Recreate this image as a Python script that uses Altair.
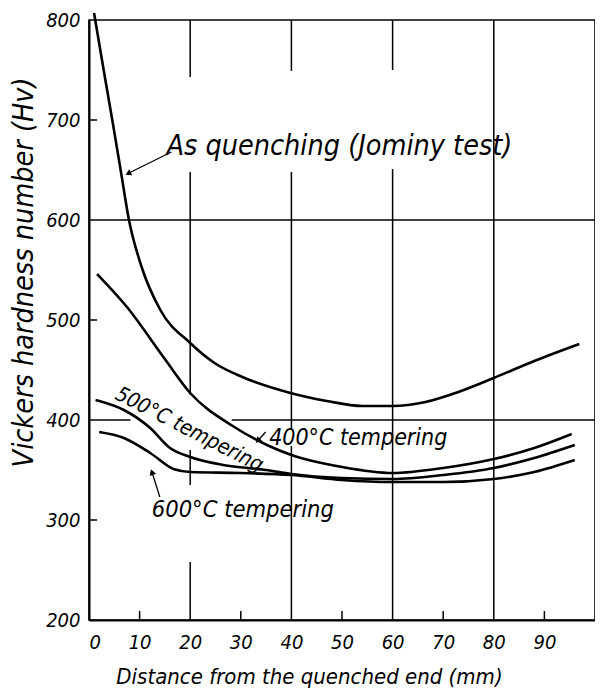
import altair as alt
import pandas as pd

# ---- data ----
quench_x = [1.0, 2.9, 4.6, 6.35, 7.9, 10.4, 14.1, 20.0, 24.8, 30.3, 39.8, 47.0, 54.0, 60.0, 66.5, 73.0, 80.0, 88.0, 96.9]
quench_y = [807, 750, 700, 647, 600, 553, 510, 477, 457, 443, 427, 419, 414, 414, 418, 428, 442, 459, 476]

t400_x = [1.6, 7.5, 14.7, 20.0, 28.4, 35.6, 40.0, 50.0, 60.0, 70.0, 80.0, 88.0, 95.4]
t400_y = [546, 513, 463, 427, 394, 374, 365, 353, 347, 352, 361, 372, 386]

t500_x = [1.3, 6.9, 12.1, 16.0, 20.0, 26.5, 35.0, 40.0, 50.0, 60.0, 70.0, 80.0, 88.0, 96.0]
t500_y = [420, 410, 392, 372, 363, 355, 350, 346, 342, 341, 345, 352, 362, 375]

t600_x = [2.0, 6.9, 12.1, 16.7, 20.0, 30.0, 40.0, 50.0, 60.0, 70.0, 80.0, 88.0, 96.0]
t600_y = [388, 382, 367, 351, 348, 347, 345, 340, 338, 338, 341, 348, 360]

x_tick_values = [0, 10, 20, 30, 40, 50, 60, 70, 80, 90]
y_tick_values = [200, 300, 400, 500, 600, 700, 800]

# grid segments (with gaps left for the hand-lettered labels)
grid_x = [20, 20, 20, 20, 40, 40, 40, 60, 60, 80, 0, 0, 28.2]
grid_x2 = [20, 20, 20, 20, 40, 40, 40, 60, 60, 80, 100, 8.2, 100]
grid_y = [800, 648, 370, 258, 800, 648, 374, 800, 651, 800, 600, 400, 400]
grid_y2 = [743, 425, 335, 200, 749, 390, 200, 750, 200, 200, 600, 400, 400]

minor_x = [10, 30, 50, 70, 90]
minor_y = [700, 500, 300]

labels_text = ["As quenching (Jominy test)", "500°C tempering", "400°C tempering", "600°C tempering"]
labels_x = [15.3, 19.8, 35.6, 12.4]
labels_y = [665, 390, 375, 303]
labels_angle = [0, 27, 0, 0]
labels_align = ["left", "center", "left", "left"]
labels_size = [28.5, 21, 23, 23.5]

arrow_x = [16.3, 14.0, 34.9]
arrow_y = [668, 323, 388]
arrow_x2 = [7.9, 12.5, 33.5]
arrow_y2 = [647, 347, 380]
arrow_angle = [244, 340, 225]

FONT = "DejaVu Sans Condensed, DejaVu Sans"

rows = []
for name, xs_, ys_ in [("quench", quench_x, quench_y), ("400", t400_x, t400_y),
                       ("500", t500_x, t500_y), ("600", t600_x, t600_y)]:
    for i, (a, b) in enumerate(zip(xs_, ys_)):
        rows.append({"series": name, "d": a, "hv": b, "o": i})
curves = pd.DataFrame(rows)

xs = alt.Scale(domain=[0, 100], nice=False, zero=False)
ys = alt.Scale(domain=[200, 800], nice=False, zero=False)

x_axis = alt.Axis(values=x_tick_values, title="Distance from the quenched end (mm)",
                  tickSize=0, labelPadding=12, grid=False, domainWidth=2, domainColor="black",
                  labelFontSize=20, labelFont=FONT, labelFontStyle="italic", labelColor="black",
                  titleFontSize=22, titleFont=FONT, titleFontStyle="italic", titleFontWeight="normal",
                  titleColor="black", titleX=220, titleY=56, titleAnchor="middle", titleBaseline="middle")
y_axis = alt.Axis(values=y_tick_values, title="Vickers hardness number (Hv)",
                  tickSize=0, labelPadding=9, grid=False, domainWidth=2, domainColor="black",
                  labelFontSize=20, labelFont=FONT, labelFontStyle="italic", labelColor="black",
                  titleFontSize=28.5, titleFont=FONT, titleFontStyle="italic", titleFontWeight="normal",
                  titleColor="black", titleX=-66, titleY=252, titleAngle=270,
                  titleAlign="center", titleBaseline="middle")

lines = alt.Chart(curves).mark_line(color="black", strokeWidth=2.6, interpolate="monotone").encode(
    x=alt.X("d:Q", scale=xs, axis=x_axis),
    y=alt.Y("hv:Q", scale=ys, axis=y_axis),
    detail="series:N",
    order="o:Q",
)

grid_df = pd.DataFrame({"x": grid_x, "x2": grid_x2, "y": grid_y, "y2": grid_y2})
grid = alt.Chart(grid_df).mark_rule(color="black", strokeWidth=1.5).encode(
    x=alt.X("x:Q", scale=xs), x2="x2", y=alt.Y("y:Q", scale=ys), y2="y2")

mx_df = pd.DataFrame({"x": minor_x, "y": [200] * 5, "y2": [209] * 5})
mticks_x = alt.Chart(mx_df).mark_rule(color="black", strokeWidth=1.5).encode(
    x=alt.X("x:Q", scale=xs), y=alt.Y("y:Q", scale=ys), y2="y2")
my_df = pd.DataFrame({"y": minor_y, "x": [0] * 3, "x2": [1.6] * 3})
mticks_y = alt.Chart(my_df).mark_rule(color="black", strokeWidth=1.5).encode(
    y=alt.Y("y:Q", scale=ys), x=alt.X("x:Q", scale=xs), x2="x2")

lab_layers = []
for t, lx, ly, ang, al, sz in zip(labels_text, labels_x, labels_y, labels_angle, labels_align, labels_size):
    df = pd.DataFrame({"t": [t], "x": [lx], "y": [ly]})
    kw = dict(font=FONT, fontStyle="italic", fontSize=sz, color="black", align=al,
              baseline="alphabetic" if ang == 0 else "middle")
    if ang:
        kw["angle"] = ang
    lab_layers.append(alt.Chart(df).mark_text(**kw).encode(
        x=alt.X("x:Q", scale=xs), y=alt.Y("y:Q", scale=ys), text="t:N"))

arr_df = pd.DataFrame({"x": arrow_x, "y": arrow_y, "x2": arrow_x2, "y2": arrow_y2, "a": arrow_angle})
shafts = alt.Chart(arr_df).mark_rule(color="black", strokeWidth=1.3).encode(
    x=alt.X("x:Q", scale=xs), x2="x2", y=alt.Y("y:Q", scale=ys), y2="y2")
heads = alt.Chart(arr_df).mark_point(shape="triangle", filled=True, color="black", size=45, opacity=1).encode(
    x=alt.X("x2:Q", scale=xs), y=alt.Y("y2:Q", scale=ys), angle=alt.Angle("a:Q", scale=None))

chart = alt.layer(grid, mticks_x, mticks_y, lines, shafts, heads, *lab_layers).properties(
    width=506, height=600,
    autosize="none",
    padding={"left": 81, "top": 12, "right": 0, "bottom": 68},
    background="white",
).configure_view(stroke="black", strokeWidth=1.6).configure_axis(
    labelFontStyle="italic", titleFontStyle="italic")

chart.save("out.html", embed_options={"renderer": "svg", "actions": False})
